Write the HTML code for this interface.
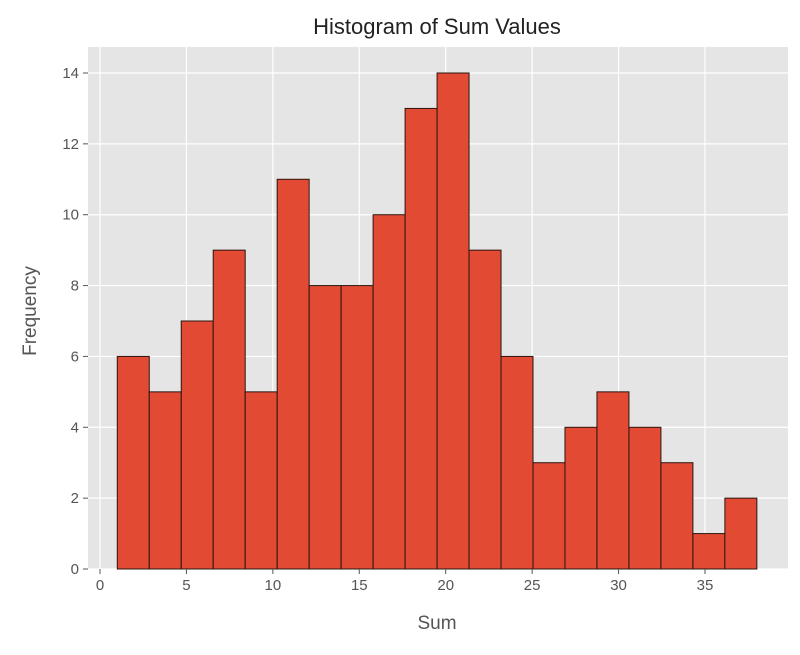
<!DOCTYPE html>
<html><head><meta charset="utf-8"><style>
body{margin:0;background:#fff;font-family:"Liberation Sans","DejaVu Sans",sans-serif}
</style></head><body>
<svg id="chart" width="800" height="650" xmlns="http://www.w3.org/2000/svg">
<rect x="0" y="0" width="800" height="650" fill="#fff"/>
<rect x="88" y="47" width="700" height="522" fill="#e5e5e5"/>
<g id="grid"></g><g id="bars"></g><g id="axes"></g>
<text x="437" y="34" text-anchor="middle" font-size="22" fill="#222">Histogram of Sum Values</text>
<text x="437" y="629" text-anchor="middle" font-size="19" fill="#555">Sum</text>
<text x="36" y="311" text-anchor="middle" font-size="19" fill="#555" transform="rotate(-90 36 311)">Frequency</text>
</svg>
<script>
const counts=[6,5,7,9,5,11,8,8,10,13,14,9,6,3,4,5,4,3,1,2];
const binStart=1, binEnd=38;
const xTicks=[0,5,10,15,20,25,30,35];
const yTicks=[0,2,4,6,8,10,12,14];
const NS="http://www.w3.org/2000/svg";
const xs=v=>100+v*(705-100)/35;
const ys=v=>569-v*(569-73)/14;
function mk(tag,attrs,parent){const e=document.createElementNS(NS,tag);for(const k in attrs)e.setAttribute(k,attrs[k]);document.getElementById(parent).appendChild(e);return e;}
xTicks.forEach(t=>{
  const l=mk('line',{x1:xs(t),x2:xs(t),y1:47,y2:569,stroke:'#fff','stroke-width':1.2},'grid');
  
  
  const tk=mk('line',{x1:xs(t),x2:xs(t),y1:569,y2:574,stroke:'#555'},'axes');
  
  
  const tx=mk('text',{x:xs(t),y:590,'text-anchor':'middle','font-size':15,fill:'#555'},'axes');
  tx.textContent=t;
  
  
});
yTicks.forEach(t=>{
  const l=mk('line',{x1:88,x2:788,y1:ys(t),y2:ys(t),stroke:'#fff','stroke-width':1.2},'grid');
  
  
  const tk=mk('line',{x1:83,x2:88,y1:ys(t),y2:ys(t),stroke:'#555'},'axes');
  
  
  const tx=mk('text',{x:79,y:ys(t)+5,'text-anchor':'end','font-size':15,fill:'#555'},'axes');
  tx.textContent=t;
  
  
});
const w=(binEnd-binStart)/counts.length;
counts.forEach((c,i)=>{
  const x0=xs(binStart+i*w), x1=xs(binStart+(i+1)*w);
  const r=mk('rect',{x:x0,y:ys(c),width:x1-x0,height:ys(0)-ys(c),fill:'#e24a33',stroke:'#2a1510','stroke-width':1},'bars');
  
  
});
</script>
</body></html>
